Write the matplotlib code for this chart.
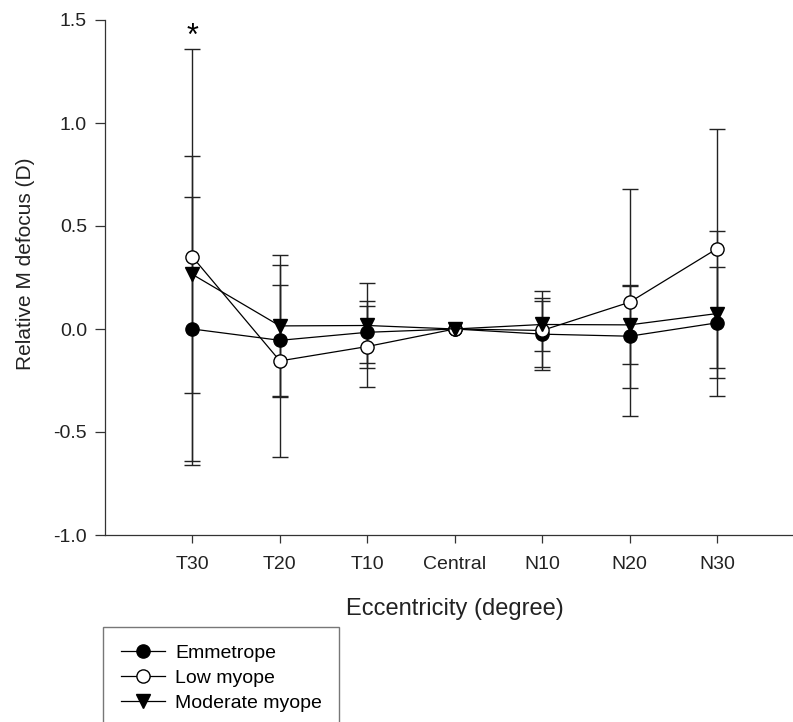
import numpy as np
import matplotlib
matplotlib.use('Agg')
import matplotlib.pyplot as plt

plt.rcParams['font.family'] = ['Liberation Sans', 'DejaVu Sans']

# eccentricity positions
labels = ['T30', 'T20', 'T10', 'Central', 'N10', 'N20', 'N30']

# mean relative M defocus (D) and SD
emmetrope = [0.0, -0.055, -0.016, 0.0, -0.025, -0.035, 0.03]
emmetrope_sd = [0.64, 0.27, 0.15, np.nan, 0.16, 0.25, 0.27]
low_myope = [0.35, -0.155, -0.085, 0.0, -0.007, 0.13, 0.39]
low_myope_sd = [1.01, 0.465, 0.195, np.nan, 0.19, 0.55, 0.58]
mod_myope = [0.265, 0.015, 0.017, 0.0, 0.022, 0.02, 0.075]
mod_myope_sd = [0.575, 0.345, 0.205, np.nan, 0.128, 0.19, 0.4]

x = np.arange(1, len(labels) + 1)

fig = plt.figure(figsize=(7.93, 7.22), dpi=100)
ax = fig.add_axes([105 / 793, 187 / 722, (804.5 - 105) / 793, 515 / 722])

common = dict(color='black', ecolor='#222222', elinewidth=1.0, capsize=6,
              capthick=1.0, linewidth=0.9, markersize=9.5, markeredgewidth=1.0)
e1 = ax.errorbar(x, emmetrope, yerr=emmetrope_sd, fmt='-o', markerfacecolor='black',
                 label='Emmetrope', **common)
e2 = ax.errorbar(x, low_myope, yerr=low_myope_sd, fmt='-o', markerfacecolor='white',
                 label='Low myope', **common)
e3 = ax.errorbar(x, mod_myope, yerr=mod_myope_sd, fmt='-v', markerfacecolor='black',
                 label='Moderate myope', **common)

# significance mark at T30
ax.text(x[0], 1.42, '*', ha='center', va='center', fontsize=22)

ax.set_xlim(0, 8)
ax.set_ylim(-1.0, 1.5)
ax.set_xticks(x)
ax.set_xticklabels(labels)
ax.set_yticks([-1.0, -0.5, 0.0, 0.5, 1.0, 1.5])
ax.set_yticklabels(['-1.0', '-0.5', '0.0', '0.5', '1.0', '1.5'])
ax.tick_params(axis='both', direction='out', labelsize=14, width=0.9,
               color='#333333', labelcolor='#222222')
ax.tick_params(axis='x', length=6, pad=9)
ax.tick_params(axis='y', length=7, pad=6)

for side in ['top', 'right']:
    ax.spines[side].set_visible(False)
for side in ['left', 'bottom']:
    ax.spines[side].set_linewidth(0.9)
    ax.spines[side].set_color('#333333')

ax.set_xlabel('Eccentricity (degree)', fontsize=17, color='#222222')
ax.xaxis.label.set_va('center')
ax.xaxis.set_label_coords(0.5, (535 - 609) / 515)
ax.set_ylabel('Relative M defocus (D)', fontsize=15, color='#222222')
ax.yaxis.label.set_va('center')
ax.yaxis.set_label_coords((26 - 105) / 699.5, (535 - 264) / 515)

# legend shows only line + marker
handles = [e1[0], e2[0], e3[0]]
names = ['Emmetrope', 'Low myope', 'Moderate myope']
leg = fig.legend(handles, names, loc='upper left',
                 bbox_to_anchor=(103 / 793, 1 - 627 / 722), fontsize=14,
                 frameon=True, fancybox=False, edgecolor='#555555',
                 handlelength=2.3, handletextpad=0.5, labelspacing=0.38,
                 borderpad=0.9, borderaxespad=0)
leg.get_frame().set_linewidth(1.0)

fig.savefig('out.png', dpi=100)
